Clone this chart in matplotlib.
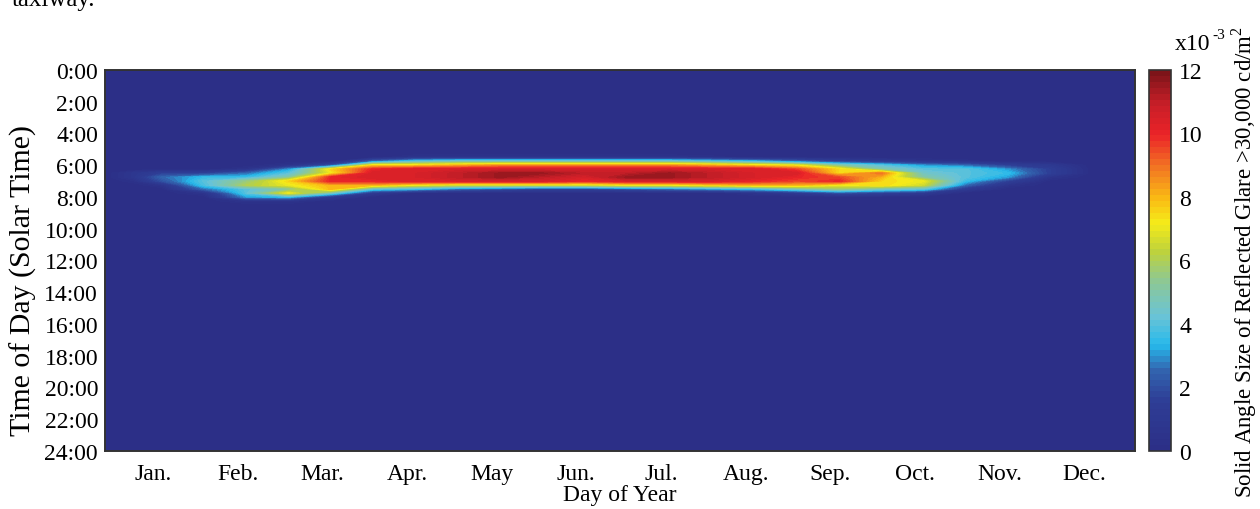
import numpy as np
import matplotlib
matplotlib.use("Agg")
import matplotlib.pyplot as plt
from matplotlib.colors import LinearSegmentedColormap

plt.rcParams['font.family'] = ['Liberation Serif', 'DejaVu Serif']
plt.rcParams['mathtext.fontset'] = 'custom'
plt.rcParams['mathtext.rm'] = 'Liberation Serif'

# sample days (columns) and times of day in hours (rows of the glare band)
days = [0, 10, 20, 35, 50, 65, 80, 95, 110, 125, 140, 155, 170, 185, 200,
        215, 230, 245, 260, 275, 290, 305, 320, 335, 350, 365]
band_hours = [5.5, 5.75, 6.0, 6.25, 6.5, 6.75, 7.0, 7.25, 7.5, 7.75, 8.0, 8.25, 8.5]

# solid angle (x1e-3) for each day, read top-down over band_hours
glare = [
    [0, 0, 0, 0, 0, 0, 0, 0, 0, 0, 0, 0, 0],
    [0, 0, 0, 0, 0.8, 0.8, 0.3, 0, 0, 0, 0, 0, 0],
    [0, 0, 0, 0, 1.5, 2.5, 2.0, 0.5, 0, 0, 0, 0, 0],
    [0, 0, 0, 0, 1.5, 3.5, 4.0, 3.8, 2.5, 0.5, 0, 0, 0],
    [0, 0, 0, 0.5, 2.5, 3.5, 5.5, 6.0, 4.0, 4.0, 3.0, 0.5, 0],
    [0, 0, 0.5, 3.0, 4.0, 5.0, 7.5, 7.0, 5.0, 7.0, 3.5, 0.5, 0],
    [0, 0, 2.0, 7.5, 7.0, 10.0, 10.0, 8.0, 8.0, 4.5, 1.0, 0, 0],
    [0, 2.5, 7.5, 10.0, 10.5, 10.5, 10.0, 8.0, 4.0, 1.0, 0, 0, 0],
    [0.5, 4.0, 7.5, 10.5, 10.5, 10.5, 10.5, 7.0, 3.5, 0, 0, 0, 0],
    [0.5, 4.5, 8.0, 10.5, 11.0, 11.0, 10.5, 6.5, 2.5, 0, 0, 0, 0],
    [0.5, 4.5, 8.5, 10.5, 11.5, 11.5, 10.5, 6.5, 2.0, 0, 0, 0, 0],
    [0.5, 4.5, 8.5, 10.5, 11.5, 11.0, 10.5, 6.5, 1.5, 0, 0, 0, 0],
    [0.5, 4.5, 8.5, 10.5, 11.0, 10.5, 10.0, 6.5, 1.5, 0, 0, 0, 0],
    [0.5, 4.5, 8.5, 10.5, 11.0, 11.5, 10.5, 7.0, 2.0, 0, 0, 0, 0],
    [0.5, 4.5, 8.5, 10.5, 11.5, 11.5, 10.5, 7.0, 2.5, 0, 0, 0, 0],
    [0.3, 4.0, 8.0, 10.5, 11.0, 11.0, 10.5, 7.5, 3.0, 0, 0, 0, 0],
    [0, 3.5, 7.5, 10.5, 10.5, 10.5, 10.0, 8.0, 3.5, 0.5, 0, 0, 0],
    [0, 2.5, 7.0, 9.5, 10.5, 10.0, 9.5, 8.0, 4.5, 1.0, 0, 0, 0],
    [0, 1.5, 5.0, 7.5, 7.5, 9.5, 10.0, 7.0, 5.5, 2.0, 0, 0, 0],
    [0, 1.0, 4.0, 5.0, 9.0, 8.0, 7.5, 7.5, 4.5, 1.5, 0, 0, 0],
    [0, 0.5, 3.0, 4.0, 4.5, 5.0, 7.0, 6.5, 4.0, 1.0, 0, 0, 0],
    [0, 0.3, 2.5, 4.0, 4.0, 4.0, 3.5, 2.5, 1.0, 0, 0, 0, 0],
    [0, 0, 1.5, 3.0, 3.5, 3.0, 1.5, 0.5, 0, 0, 0, 0, 0],
    [0, 0, 1.0, 1.5, 1.5, 0.5, 0, 0, 0, 0, 0, 0, 0],
    [0, 0, 0, 0, 0, 0, 0, 0, 0, 0, 0, 0, 0],
    [0, 0, 0, 0, 0, 0, 0, 0, 0, 0, 0, 0, 0],
]

month_ticks = [17, 47, 77, 107, 137, 167, 197, 227, 257, 287, 317, 347]
month_labels = ['Jan.', 'Feb.', 'Mar.', 'Apr.', 'May', 'Jun.', 'Jul.',
                'Aug.', 'Sep.', 'Oct.', 'Nov.', 'Dec.']
hour_ticks = list(range(0, 25, 2))
hour_labels = ['{}:00'.format(h) for h in hour_ticks]
cbar_ticks = [0, 2, 4, 6, 8, 10, 12]

# printed-jet look colormap
anchors = [
    (0.0, (44, 47, 135)), (1.5, (46, 62, 150)), (2.5, (50, 100, 175)),
    (3.3, (38, 185, 235)), (4.2, (105, 195, 215)), (5.3, (140, 200, 150)),
    (6.3, (190, 210, 60)), (7.2, (245, 235, 25)), (8.0, (250, 185, 20)),
    (9.0, (242, 115, 35)), (10.0, (235, 35, 40)), (11.0, (200, 30, 40)),
    (12.0, (125, 20, 25)),
]
cmap = LinearSegmentedColormap.from_list(
    'glare', [(v / 12.0, tuple(c / 255.0 for c in rgb)) for v, rgb in anchors], N=64)

# zero rows just outside the band; the rest of the day is background
hours = [5.25] + band_hours + [8.75]
Z = np.array(glare).T
Z = np.vstack([np.zeros((1, Z.shape[1])), Z, np.zeros((1, Z.shape[1]))])

fig = plt.figure(figsize=(12.6, 5.1), dpi=100)
ax = fig.add_axes([105/1260, 58/510, 1030/1260, 381/510])
cax = fig.add_axes([1149/1260, 58/510, 22/1260, 381/510])

ax.set_facecolor(cmap(0))
levels = np.linspace(0, 12, 65)
ax.contourf(days, hours, Z, levels=levels, cmap=cmap, vmin=0, vmax=12)
ax.set_xlim(0, 365)
ax.set_ylim(24, 0)

ax.set_xticks(month_ticks)
ax.set_xticklabels(month_labels)
ax.set_yticks(hour_ticks)
ax.set_yticklabels(hour_labels)
ax.tick_params(length=0, labelsize=17, pad=5)
ax.tick_params(axis='x', pad=9)
ax.set_xlabel('Day of Year', fontsize=17, labelpad=0)
ax.set_ylabel('Time of Day (Solar Time)', fontsize=21.5)
ax.yaxis.set_label_coords(-0.066, 0.45)
for s in ax.spines.values():
    s.set_color('#333333')
    s.set_linewidth(1.4)

sm = plt.cm.ScalarMappable(cmap=cmap, norm=plt.Normalize(0, 12))
cb = fig.colorbar(sm, cax=cax, ticks=cbar_ticks)
cb.ax.tick_params(length=0, labelsize=17, pad=6)
cb.outline.set_edgecolor('#333333')
cb.outline.set_linewidth(1.2)
cb.set_label('Solid Angle Size of Reflected Glare >30,000 cd/m$^{\\mathregular{2}}$',
             fontsize=16.5, labelpad=19)
fig.text(1175/1260, 1 - 50/510, 'x10', fontsize=17, va='baseline', ha='left')
fig.text(1212/1260, 1 - 39/510, '-3', fontsize=11, va='baseline', ha='left')

fig.text(12/1260, 1 - 6/510, 'taxiway.', fontsize=18, ha='left', va='baseline')

fig.savefig('out.png', dpi=100)
